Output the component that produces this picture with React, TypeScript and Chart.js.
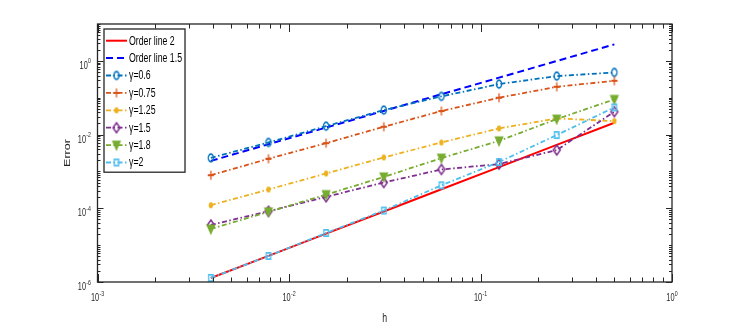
import React, { useEffect, useRef } from 'react';
import { Chart, registerables } from 'chart.js';

Chart.register(...registerables);

// ---- data ----
const H_VALUES = [1 / 256, 1 / 128, 1 / 64, 1 / 32, 1 / 16, 1 / 8, 1 / 4, 1 / 2];
const ORDER_2 = [1.28e-6, 5.13e-6, 2.05e-5, 8.2e-5, 3.28e-4, 1.31e-3, 5.25e-3, 0.021];
const ORDER_15 = [1.93e-3, 5.47e-3, 0.0155, 0.0438, 0.124, 0.35, 0.99, 2.8];
const GAMMA_06 = [2.33e-3, 6.1e-3, 0.0169, 0.0461, 0.1087, 0.234, 0.386, 0.486];
const GAMMA_075 = [7.9e-4, 2.2e-3, 5.85e-3, 0.0163, 0.0435, 0.1, 0.198, 0.288];
const GAMMA_125 = [1.21e-4, 3.24e-4, 8.8e-4, 2.4e-3, 6.1e-3, 0.0147, 0.0274, 0.0232];
const GAMMA_15 = [3.53e-5, 8.3e-5, 2.04e-4, 5.0e-4, 1.13e-3, 1.58e-3, 3.8e-3, 0.0417];
const GAMMA_18 = [2.75e-5, 8.0e-5, 2.35e-4, 7.1e-4, 2.3e-3, 6.76e-3, 0.0263, 0.09];
const GAMMA_2 = [1.29e-6, 5.08e-6, 2.14e-5, 8.7e-5, 4.2e-4, 1.8e-3, 9.7e-3, 0.0546];

const SERIES_VALUES = [ORDER_2, ORDER_15, GAMMA_06, GAMMA_075, GAMMA_125, GAMMA_15, GAMMA_18, GAMMA_2];
const SERIES_LABELS = ['Order line 2', 'Order line 1.5', 'γ=0.6', 'γ=0.75', 'γ=1.25', 'γ=1.5', 'γ=1.8', 'γ=2'];
const SERIES_COLORS = ['#FF0000', '#0000FF', '#0072BD', '#D95319', '#EDB120', '#7E2F8E', '#77AC30', '#4DBEEE'];
type MarkerKind = 'none' | 'o' | '+' | '.' | 'd' | 'v' | 's';
const SERIES_MARKERS: MarkerKind[] = ['none', 'none', 'o', '+', '.', 'd', 'v', 's'];

const X_LABEL = 'h';
const Y_LABEL = 'Error';
const X_TICK_EXPONENTS = [-3, -2, -1, 0];
const Y_TICK_EXPONENTS = [-6, -4, -2, 0];
const X_MIN = 1e-3, X_MAX = 1;
const Y_MIN = 1e-6, Y_MAX = 10;

// ---- style ----
const SQ = 0.7; // horizontal compression seen in the reference
const INK = '#262626';
const FONT = '"Liberation Sans", Arial, Helvetica, sans-serif';
const DASH_DOT = [5, 2.5, 1.5, 2.5];
const SERIES_DASHES = [[], [7, 4], DASH_DOT, DASH_DOT, DASH_DOT, DASH_DOT, DASH_DOT, DASH_DOT];

function makeMarker(kind: MarkerKind, color: string): HTMLCanvasElement | null {
  if (kind === 'none') return null;
  const size = 16;
  const c = document.createElement('canvas');
  c.width = size;
  c.height = size;
  const ctx = c.getContext('2d')!;
  ctx.translate(size / 2, size / 2);
  ctx.scale(SQ, 1);
  ctx.strokeStyle = color;
  ctx.fillStyle = color;
  ctx.lineWidth = 1.8;
  ctx.beginPath();
  switch (kind) {
    case 'o':
      ctx.arc(0, 0, 3.8, 0, Math.PI * 2);
      ctx.stroke();
      break;
    case '+':
      ctx.moveTo(-4.5, 0); ctx.lineTo(4.5, 0);
      ctx.moveTo(0, -4.5); ctx.lineTo(0, 4.5);
      ctx.stroke();
      break;
    case '.':
      ctx.arc(0, 0, 3.1, 0, Math.PI * 2);
      ctx.fill();
      break;
    case 'd':
      ctx.moveTo(0, -5); ctx.lineTo(5, 0); ctx.lineTo(0, 5); ctx.lineTo(-5, 0);
      ctx.closePath();
      ctx.stroke();
      break;
    case 'v':
      ctx.moveTo(-5, -3.5); ctx.lineTo(5, -3.5); ctx.lineTo(0, 4.5);
      ctx.closePath();
      ctx.fill();
      ctx.stroke();
      break;
    case 's':
      ctx.rect(-3.2, -3.2, 6.4, 6.4);
      ctx.stroke();
      break;
  }
  return c;
}

function drawText(ctx: CanvasRenderingContext2D, text: string, x: number, y: number, size: number, align: CanvasTextAlign, baseline: CanvasTextBaseline) {
  ctx.save();
  ctx.translate(x, y);
  ctx.scale(SQ, 1);
  ctx.font = `${size}px ${FONT}`;
  ctx.textAlign = align;
  ctx.textBaseline = baseline;
  ctx.fillText(text, 0, 0);
  ctx.restore();
}

function textWidth(ctx: CanvasRenderingContext2D, text: string, size: number) {
  ctx.save();
  ctx.font = `${size}px ${FONT}`;
  const w = ctx.measureText(text).width * SQ;
  ctx.restore();
  return w;
}

const BASE = 10.5;
const EXP = 7.5;

function drawPow(ctx: CanvasRenderingContext2D, exp: number, x: number, yBase: number, align: 'center' | 'right') {
  const e = String(exp);
  const w1 = textWidth(ctx, '10', BASE);
  const w2 = textWidth(ctx, e, EXP);
  const total = w1 + w2 + 0.3;
  const left = align === 'center' ? x - total / 2 : x - total;
  drawText(ctx, '10', left, yBase, BASE, 'left', 'alphabetic');
  drawText(ctx, e, left + w1 + 0.3, yBase - 5.5, EXP, 'left', 'alphabetic');
}

const axesPlugin = {
  id: 'matlabAxes',
  afterDraw(chart: any) {
    const ctx: CanvasRenderingContext2D = chart.ctx;
    const { left, right, top, bottom } = chart.chartArea;
    const xs = chart.scales.x;
    const ys = chart.scales.y;
    ctx.save();
    ctx.fillStyle = INK;
    ctx.strokeStyle = INK;

    // ticks
    ctx.lineWidth = 1;
    ctx.beginPath();
    const xMaj = 8, xMin = 4.5, yMaj = 6, yMin = 3;
    for (let k = -3; k <= 0; k++) {
      for (let m = 1; m <= 9; m++) {
        const v = m * Math.pow(10, k);
        if (v > X_MAX + 1e-12) continue;
        const px = Math.round(xs.getPixelForValue(v)) + 0.5;
        const len = m === 1 ? xMaj : xMin;
        ctx.moveTo(px, bottom); ctx.lineTo(px, bottom - len);
        ctx.moveTo(px, top); ctx.lineTo(px, top + len);
      }
    }
    for (let k = -6; k <= 1; k++) {
      for (let m = 1; m <= 9; m++) {
        const v = m * Math.pow(10, k);
        if (v > Y_MAX + 1e-12) continue;
        const py = Math.round(ys.getPixelForValue(v)) + 0.5;
        const major = m === 1 && Y_TICK_EXPONENTS.includes(k);
        const len = major ? yMaj : yMin;
        ctx.moveTo(left, py); ctx.lineTo(left + len, py);
        ctx.moveTo(right, py); ctx.lineTo(right - len, py);
      }
    }
    ctx.stroke();

    // box
    ctx.lineWidth = 1.3;
    ctx.strokeRect(left, top, right - left, bottom - top);

    // tick labels
    for (const e of X_TICK_EXPONENTS) {
      const px = xs.getPixelForValue(Math.pow(10, e));
      drawPow(ctx, e, px, bottom + 19, 'center');
    }
    for (const e of Y_TICK_EXPONENTS) {
      const py = ys.getPixelForValue(Math.pow(10, e));
      drawPow(ctx, e, left - 6.5, py + 8, 'right');
    }

    // axis labels
    drawText(ctx, X_LABEL, (left + right) / 2, bottom + 37, 12.5, 'center', 'middle');
    ctx.save();
    ctx.translate(68, (top + bottom) / 2);
    ctx.scale(SQ, 1);
    ctx.rotate(-Math.PI / 2);
    ctx.font = `12.5px ${FONT}`;
    ctx.textAlign = 'center';
    ctx.textBaseline = 'middle';
    ctx.fillText(Y_LABEL, 0, 0);
    ctx.restore();

    // legend
    const lx = left + 6.5;
    const ly = top + 5;
    const rowH = 17.4;
    const sampleW = 21;
    let maxW = 0;
    for (const l of SERIES_LABELS) maxW = Math.max(maxW, textWidth(ctx, l, 12.5));
    const boxW = 2 + sampleW + 2 + maxW + 3;
    const boxH = rowH * SERIES_LABELS.length + 4;
    ctx.fillStyle = '#FFFFFF';
    ctx.fillRect(lx, ly, boxW, boxH);
    ctx.lineWidth = 1.3;
    ctx.strokeStyle = INK;
    ctx.strokeRect(lx, ly, boxW, boxH);
    chart.data.datasets.forEach((ds: any, i: number) => {
      const cy = ly + 11.7 + i * rowH;
      const x0 = lx + 2, x1 = x0 + sampleW;
      ctx.save();
      ctx.strokeStyle = ds.borderColor;
      ctx.lineWidth = ds.borderWidth;
      ctx.setLineDash(ds.borderDash || []);
      ctx.beginPath();
      ctx.moveTo(x0, cy); ctx.lineTo(x1, cy);
      ctx.stroke();
      ctx.restore();
      const mk = ds.pointStyle;
      if (mk && typeof mk !== 'string') {
        ctx.drawImage(mk, (x0 + x1) / 2 - mk.width / 2, cy - mk.height / 2);
      }
      ctx.fillStyle = '#000000';
      drawText(ctx, ds.label, x1 + 2, cy + 0.5, 12.5, 'left', 'middle');
    });
    ctx.restore();
  },
};

export default function App() {
  const ref = useRef<HTMLCanvasElement | null>(null);
  useEffect(() => {
    document.body.style.margin = '0';
    const canvas = ref.current!;
    const datasets = SERIES_VALUES.map((vals, i) => {
      const marker = makeMarker(SERIES_MARKERS[i], SERIES_COLORS[i]);
      return {
        label: SERIES_LABELS[i],
        data: H_VALUES.map((h, j) => ({ x: h, y: vals[j] })),
        borderColor: SERIES_COLORS[i],
        backgroundColor: SERIES_COLORS[i],
        borderWidth: i < 2 ? 2 : 1.8,
        borderDash: SERIES_DASHES[i],
        pointStyle: marker || 'circle',
        pointRadius: marker ? 5 : 0,
        tension: 0,
        fill: false,
        order: 10 - i,
      };
    });
    const chart = new Chart(canvas, {
      type: 'line',
      data: { datasets },
      options: {
        responsive: false,
        animation: false,
        events: [],
        layout: { padding: { left: 97.5, right: 72, top: 24, bottom: 45 } },
        scales: {
          x: { type: 'logarithmic', min: X_MIN, max: X_MAX, display: false },
          y: { type: 'logarithmic', min: Y_MIN, max: Y_MAX, display: false },
        },
        plugins: {
          legend: { display: false },
          tooltip: { enabled: false },
        },
      },
      plugins: [axesPlugin],
    } as any);
    return () => chart.destroy();
  }, []);
  return (
    <div style={{ position: 'fixed', left: 0, top: 0, width: 744, height: 327, background: '#FFFFFF' }}>
      <canvas ref={ref} width={744} height={327} style={{ display: 'block' }} />
    </div>
  );
}
